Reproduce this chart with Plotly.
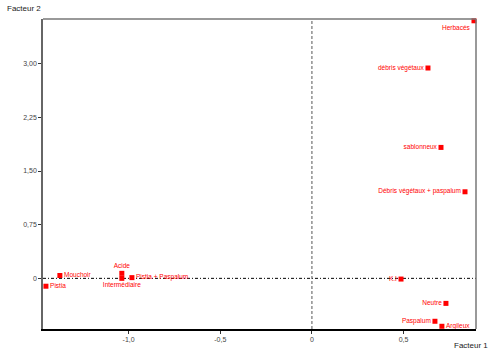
import plotly.graph_objects as go

labels = ["Herbacés", "débris végétaux", "sablonneux", "Débris végétaux + paspalum",
          "K.I", "Neutre", "Paspalum", "Argileux", "Mouchoir", "Pistia",
          "Acide", "Intermédiaire", "Pistia + Paspalum"]
facteur1 = [0.884, 0.633, 0.704, 0.835, 0.486, 0.731, 0.671, 0.709,
            -1.375, -1.451, -1.037, -1.037, -0.982]
facteur2 = [3.60, 2.94, 1.83, 1.21, -0.01, -0.35, -0.60, -0.67,
            0.04, -0.11, 0.07, 0.00, 0.01]
xtick_vals = [-1.0, -0.5, 0, 0.5]
xtick_text = ["-1,0", "-0,5", "0", "0,5"]
ytick_vals = [0, 0.75, 1.5, 2.25, 3.0]
ytick_text = ["0", "0,75", "1,50", "2,25", "3,00"]

text_pos = ["bottom left", "middle left", "middle left", "middle left",
            "middle left", "middle left", "middle left", "middle right",
            "middle right", "middle right", "top center", "bottom center", "middle right"]

RED = "#ff0000"
FONT = "Liberation Sans"
fig = go.Figure()
fig.add_trace(go.Scatter(
    x=facteur1, y=facteur2, mode="markers+text", text=labels,
    textposition=text_pos,
    textfont=dict(family=FONT, size=6.5, color=RED),
    marker=dict(symbol="square", size=5, color=RED),
    cliponaxis=False, hoverinfo="skip", showlegend=False))

xr = [-1.467, 0.895]
yr = [-0.708, 3.625]
fig.add_shape(type="line", x0=xr[0], x1=xr[1], y0=0, y1=0, xref="x", yref="y",
              line=dict(color="black", width=1, dash="3px,2px,1px,2px"), layer="below")
fig.add_shape(type="line", x0=0, x1=0, y0=yr[0], y1=yr[1], xref="x", yref="y",
              line=dict(color="#555555", width=1, dash="3px,2px"), layer="below")
fig.add_shape(type="line", x0=0, x1=1, y0=1, y1=1, xref="paper", yref="paper",
              line=dict(color="#777777", width=1.5))
fig.add_shape(type="line", x0=1, x1=1, y0=0, y1=1, xref="paper", yref="paper",
              line=dict(color="#777777", width=1.5))

fig.update_xaxes(range=xr, tickvals=xtick_vals, ticktext=xtick_text,
                 showgrid=False, zeroline=False, showline=True, linecolor="black",
                 linewidth=2, ticks="outside", ticklen=3, tickcolor="#333333",
                 tickfont=dict(family=FONT, size=7, color="#444444"))
fig.update_yaxes(range=yr, tickvals=ytick_vals, ticktext=ytick_text,
                 showgrid=False, zeroline=False, showline=True, linecolor="#666666",
                 linewidth=1.5, ticks="outside", ticklen=3, tickcolor="#333333",
                 tickfont=dict(family=FONT, size=7, color="#444444"))

fig.add_annotation(text="Facteur 2", xref="paper", yref="paper", x=0, y=1.0,
                   xshift=-38, yshift=11, xanchor="left", yanchor="middle", showarrow=False,
                   font=dict(family=FONT, size=8, color="#222222"))
fig.add_annotation(text="Facteur 1", xref="paper", yref="paper", x=1.0, y=0.0,
                   yshift=-16, xshift=14, xanchor="right", yanchor="middle", showarrow=False,
                   font=dict(family=FONT, size=8, color="#222222"))

fig.update_layout(width=494, height=355, margin=dict(l=43, r=18, t=19, b=24),
                  plot_bgcolor="white", paper_bgcolor="white")
fig.write_html("out.html")
